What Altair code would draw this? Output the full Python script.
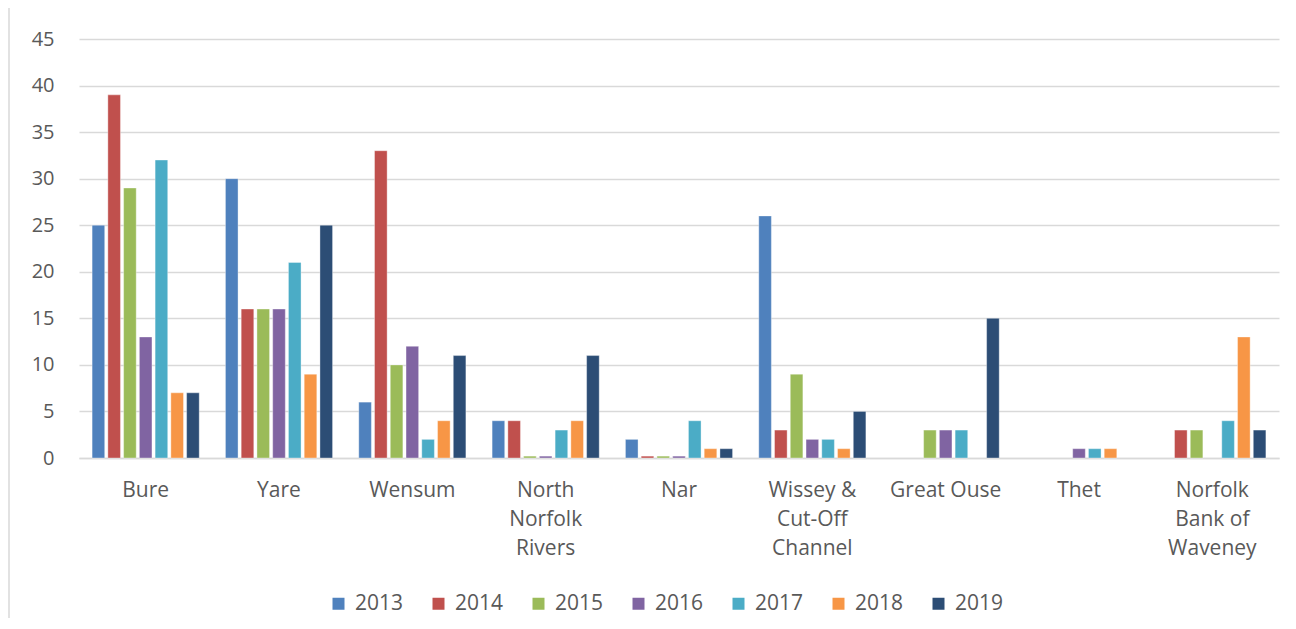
import altair as alt
import pandas as pd

categories = ["Bure", "Yare", "Wensum", "North|Norfolk|Rivers", "Nar",
              "Wissey &|Cut-Off|Channel", "Great Ouse", "Thet", "Norfolk|Bank of|Waveney"]
years = ["2013", "2014", "2015", "2016", "2017", "2018", "2019"]
colors = ["#4F81BD", "#C0504D", "#9BBB59", "#8064A2", "#4BACC6", "#F79646", "#2C4D75"]

v2013 = [25, 30, 6, 4, 2, 26, None, None, None]
v2014 = [39, 16, 33, 4, 0.2, 3, None, None, 3]
v2015 = [29, 16, 10, 0.2, 0.2, 9, 3, None, 3]
v2016 = [13, 16, 12, 0.2, 0.2, 2, 3, 1, None]
v2017 = [32, 21, 2, 3, 4, 2, 3, 1, 4]
v2018 = [7, 9, 4, 4, 1, 1, None, 1, 13]
v2019 = [7, 25, 11, 11, 1, 5, 15, None, 3]

series = [v2013, v2014, v2015, v2016, v2017, v2018, v2019]
rows = []
for yr, vals in zip(years, series):
    for cat, v in zip(categories, vals):
        if v is not None:
            rows.append({"river": cat, "year": yr, "value": v})
df = pd.DataFrame(rows)

FONT = "Open Sans"
TXT = "#595959"
GRID = "#d9d9d9"

bars = alt.Chart(df).mark_bar(stroke="white", strokeWidth=0.6, strokeOpacity=0.6).encode(
    x=alt.X("river:N", sort=categories,
            scale=alt.Scale(paddingInner=0.173, paddingOuter=0.0865),
            axis=alt.Axis(title=None, labelAngle=0, ticks=False, grid=False,
                          labelExpr="split(datum.label, '|')",
                          labelFont=FONT, labelFontSize=21, labelColor=TXT,
                          labelPadding=21, labelLineHeight=29,
                          domainColor=GRID, domainWidth=1.5)),
    xOffset=alt.XOffset("year:N", sort=years,
                        scale=alt.Scale(paddingInner=0.2, paddingOuter=0.1)),
    y=alt.Y("value:Q", scale=alt.Scale(domain=[0, 45], nice=False),
            axis=alt.Axis(title=None, values=list(range(0, 50, 5)), grid=True,
                          gridColor=GRID, gridWidth=1.5, domain=False, ticks=False,
                          labelPadding=25, labelFont=FONT, labelFontSize=20,
                          labelColor=TXT)),
    color=alt.Color("year:N", scale=alt.Scale(domain=years, range=colors),
                    legend=alt.Legend(title=None, orient="none", legendX=249, legendY=554,
                                      direction="horizontal", columns=7,
                                      symbolType="square", symbolSize=144,
                                      symbolStrokeWidth=0, labelFont=FONT,
                                      labelFontSize=21, labelColor=TXT,
                                      columnPadding=24, labelOffset=6)),
)

border = alt.Chart(pd.DataFrame({"a": [0]})).mark_rule(color=GRID, strokeWidth=1.5).encode(
    x=alt.value(-70), y=alt.value(-31), y2=alt.value(600)
)

chart = alt.layer(border, bars).properties(
    width=1200, height=419,
    autosize=alt.AutoSizeParams(type="none"),
    padding={"left": 71, "top": 31, "right": 8, "bottom": 160},
).configure_view(stroke=None)

chart.save("out.html", embed_options={"renderer": "svg", "actions": False})
